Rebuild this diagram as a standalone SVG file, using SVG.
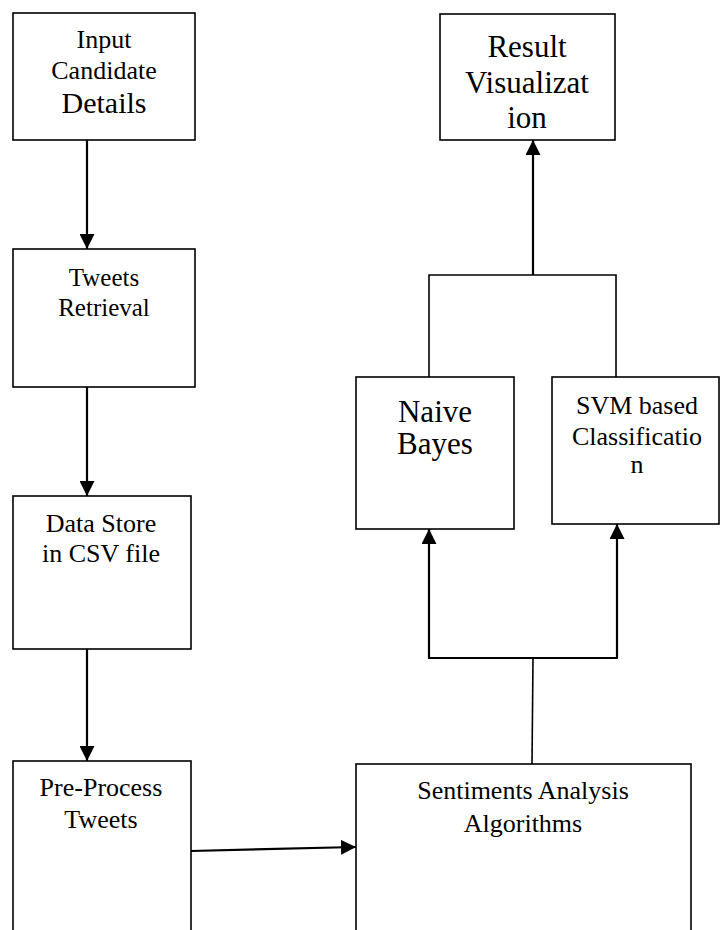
<svg xmlns="http://www.w3.org/2000/svg" width="721" height="930" viewBox="0 0 721 930">
<style>
  .box { fill: #ffffff; stroke: #000000; stroke-width: 1.6; }
  .t { font-family: "Liberation Serif", "Times New Roman", serif; fill: #000000; text-anchor: middle; }
  .arr { fill: none; stroke: #000000; stroke-width: 2.2; }
  .ln { fill: none; stroke: #000000; stroke-width: 1.6; }
</style>
<defs>
  <marker id="ah" markerUnits="userSpaceOnUse" markerWidth="15" markerHeight="15" refX="15" refY="7.5" orient="auto">
    <path d="M0,0 L15,7.5 L0,15 z" fill="#000000"/>
  </marker>
</defs>
<rect width="721" height="930" fill="#ffffff"/>

<g id="connectors">
  <line class="arr" x1="87" y1="140" x2="87" y2="249" marker-end="url(#ah)"/>
  <line class="arr" x1="87" y1="387" x2="87" y2="496" marker-end="url(#ah)"/>
  <line class="arr" x1="87" y1="649" x2="87" y2="761" marker-end="url(#ah)"/>
  <line class="arr" x1="191" y1="851" x2="356" y2="847" marker-end="url(#ah)"/>
  <line class="ln" x1="532" y1="764" x2="533" y2="658"/>
  <line class="arr" x1="428" y1="658" x2="618" y2="658"/>
  <line class="arr" x1="429" y1="658" x2="429" y2="529" marker-end="url(#ah)"/>
  <line class="arr" x1="617" y1="658" x2="617" y2="524" marker-end="url(#ah)"/>
  <polyline class="ln" points="429,377 429,275 616,275 616,377"/>
  <line class="arr" x1="533" y1="275" x2="533" y2="140" marker-end="url(#ah)"/>
</g>

<g id="input-candidate-details">
  <rect class="box" x="13" y="13" width="182" height="127"/>
  <text class="t" x="104" y="48" font-size="26">Input</text>
  <text class="t" x="104" y="79" font-size="26">Candidate</text>
  <text class="t" x="104" y="113" font-size="30">Details</text>
</g>

<g id="tweets-retrieval">
  <rect class="box" x="13" y="249" width="182" height="138"/>
  <text class="t" x="104" y="286" font-size="25">Tweets</text>
  <text class="t" x="104" y="316" font-size="25">Retrieval</text>
</g>

<g id="data-store">
  <rect class="box" x="13" y="496" width="178" height="153"/>
  <text class="t" x="101" y="532" font-size="26">Data Store</text>
  <text class="t" x="101" y="562" font-size="26">in CSV file</text>
</g>

<g id="pre-process">
  <rect class="box" x="13" y="761" width="178" height="180"/>
  <text class="t" x="101" y="796" font-size="26">Pre-Process</text>
  <text class="t" x="101" y="828" font-size="26">Tweets</text>
</g>

<g id="sentiments-analysis">
  <rect class="box" x="356" y="764" width="335" height="180"/>
  <text class="t" x="523" y="799" font-size="26">Sentiments Analysis</text>
  <text class="t" x="523" y="832" font-size="26">Algorithms</text>
</g>

<g id="naive-bayes">
  <rect class="box" x="356" y="377" width="158" height="152"/>
  <text class="t" x="435" y="422" font-size="31">Naive</text>
  <text class="t" x="435" y="454" font-size="31">Bayes</text>
</g>

<g id="svm">
  <rect class="box" x="552" y="377" width="167" height="147"/>
  <text class="t" x="637" y="414" font-size="26">SVM based</text>
  <text class="t" x="637" y="445" font-size="26">Classificatio</text>
  <text class="t" x="637" y="473" font-size="26">n</text>
</g>

<g id="result-visualization">
  <rect class="box" x="440" y="14" width="175" height="126"/>
  <text class="t" x="527" y="57" font-size="31">Result</text>
  <text class="t" x="527" y="93" font-size="31">Visualizat</text>
  <text class="t" x="527" y="128" font-size="31">ion</text>
</g>
</svg>
